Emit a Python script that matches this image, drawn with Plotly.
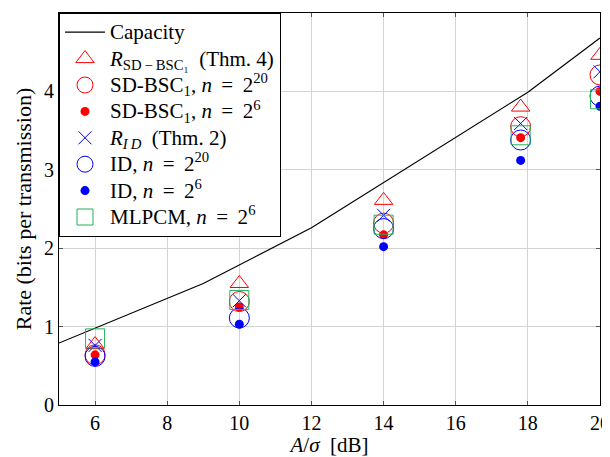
import plotly.graph_objects as go

cap_x = [5, 9, 12, 18, 20]
cap_y = [0.79, 1.55, 2.26, 3.99, 4.68]

x_pts = [6, 10, 14, 17.8, 20]
r_sd = [0.77, 1.55, 2.61, 3.80, 4.46]
sd_n20 = [0.64, 1.32, 2.32, 3.55, 4.21]
sd_n6 = [0.64, 1.25, 2.17, 3.41, 4.00]
r_id = [0.76, 1.33, 2.42, 3.59, 4.25]
id_n20 = [0.62, 1.11, 2.25, 3.38, 3.94]
id_n6 = [0.55, 1.03, 2.02, 3.12, 3.81]
mlpcm = [0.85, 1.34, 2.30, 3.44, 3.90]

RED = "#ff0000"
BLUE = "#0000ff"
GREEN = "#22b25a"
T = "\u2009"
EQ = f" {T}={T} "


def big(t):
    return f'<span style="font-size:21px">{t}</span>'


fig = go.Figure()
fig.add_trace(go.Scatter(x=cap_x, y=cap_y, mode="lines", name=big("Capacity"),
                         line=dict(color="black", width=1.2)))
fig.add_trace(go.Scatter(x=x_pts, y=r_sd, mode="markers",
                         name=big(f"<i>R</i><sub>SD{T}−{T}BSC₁</sub>  (Thm. 4)"),
                         marker=dict(symbol="triangle-up-open", size=16, color=RED, line=dict(width=1))))
fig.add_trace(go.Scatter(x=x_pts, y=sd_n20, mode="markers",
                         name=big(f"SD-BSC<sub>1</sub>, <i>n</i>{EQ}2<sup>20</sup>"),
                         marker=dict(symbol="circle-open", size=20, color=RED, line=dict(width=1))))
fig.add_trace(go.Scatter(x=x_pts, y=sd_n6, mode="markers",
                         name=big(f"SD-BSC<sub>1</sub>, <i>n</i>{EQ}2<sup>6</sup>"),
                         marker=dict(symbol="circle", size=9, color=RED)))
fig.add_trace(go.Scatter(x=x_pts, y=r_id, mode="markers",
                         name=big(f"<i>R<sub>I{T}D</sub></i>  (Thm. 2)"),
                         marker=dict(symbol="x-thin-open", size=13, color=BLUE, line=dict(width=1, color=BLUE))))
fig.add_trace(go.Scatter(x=x_pts, y=id_n20, mode="markers",
                         name=big(f"ID, <i>n</i>{EQ}2<sup>20</sup>"),
                         marker=dict(symbol="circle-open", size=20, color=BLUE, line=dict(width=1))))
fig.add_trace(go.Scatter(x=x_pts, y=id_n6, mode="markers",
                         name=big(f"ID, <i>n</i>{EQ}2<sup>6</sup>"),
                         marker=dict(symbol="circle", size=9, color=BLUE)))
fig.add_trace(go.Scatter(x=x_pts, y=mlpcm, mode="markers",
                         name=big(f"MLPCM, <i>n</i>{EQ}2<sup>6</sup>"),
                         marker=dict(symbol="square-open", size=19, color=GREEN, line=dict(width=1))))

font = "Liberation Serif, Times New Roman, serif"
axis_common = dict(showline=True, linecolor="black", linewidth=1, mirror="ticks",
                   ticks="inside", ticklen=4, tickcolor="#555",
                   showgrid=True, gridcolor="#d3d3d3", gridwidth=1, zeroline=False,
                   automargin=False,
                   tickfont=dict(family=font, size=20, color="black"))
# the page body adds an 8px offset; figure sized/margined to compensate
fig.update_layout(
    width=602, height=449,
    margin=dict(l=51, r=10, t=5, b=52),
    plot_bgcolor="white", paper_bgcolor="white",
    font=dict(family=font, size=20, color="black"),
    showlegend=True,
    legend=dict(x=0, y=1, xanchor="left", yanchor="top",
                bgcolor="white", bordercolor="black", borderwidth=1,
                font=dict(family=font, size=18, color="black"),
                itemwidth=40, tracegroupgap=0),
    xaxis=dict(range=[5, 20], tickvals=[6, 8, 10, 12, 14, 16, 18, 20],
               title=dict(text="<i>A</i>/<i>σ</i>  [dB]", font=dict(family=font, size=21), standoff=0),
               **axis_common),
    yaxis=dict(range=[0, 5], tickvals=[0, 1, 2, 3, 4, 5],
               title=dict(text="Rate (bits per transmission)", font=dict(family=font, size=22), standoff=6),
               **axis_common),
)
fig.write_html("out.html")
